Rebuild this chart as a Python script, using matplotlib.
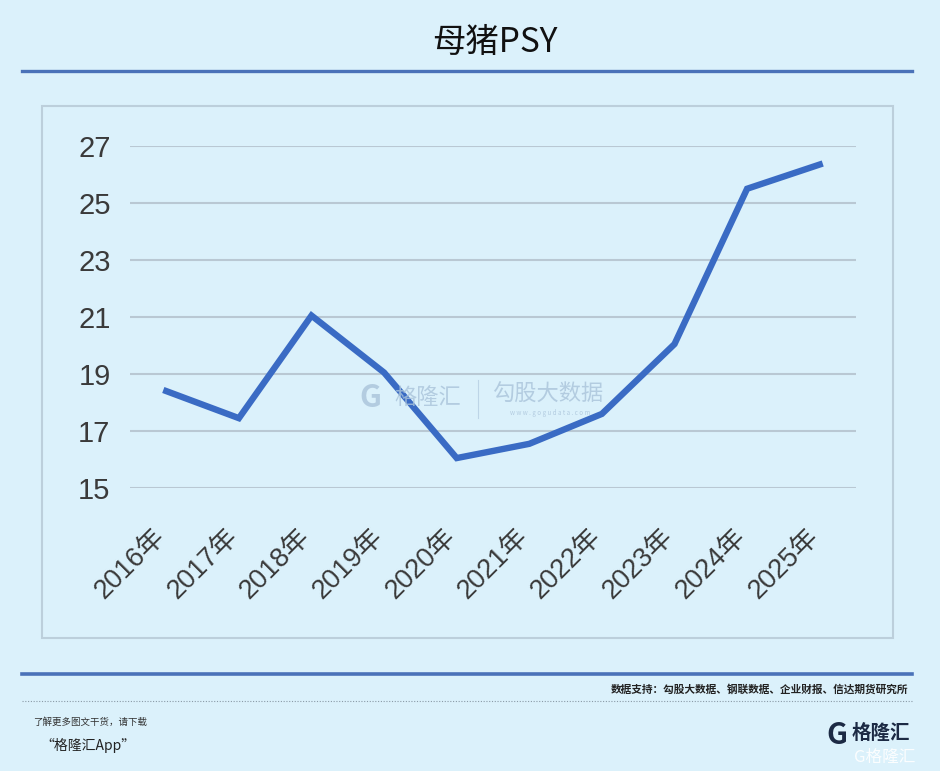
import matplotlib
matplotlib.use("Agg")
import matplotlib.pyplot as plt
import matplotlib.transforms as mtransforms
from matplotlib.lines import Line2D
from matplotlib.patches import Rectangle

plt.rcParams['font.family'] = ['Noto Sans CJK SC', 'DejaVu Sans']

years = ['2016年', '2017年', '2018年', '2019年', '2020年',
         '2021年', '2022年', '2023年', '2024年', '2025年']
psy = [18.4, 17.45, 21.05, 19.05, 16.05, 16.55, 17.6, 20.05, 25.5, 26.35]
yticks = [15, 17, 19, 21, 23, 25, 27]

W, H = 940, 771
bg = '#dbf1fb'
num_font = ['Liberation Sans', 'Noto Sans CJK SC']

def fx(x):
    return x / W

def fy(y):
    return 1 - y / H

fig = plt.figure(figsize=(W / 100, H / 100), dpi=100, facecolor=bg)

# title and separator
fig.text(fx(495), fy(42), '母猪PSY', fontsize=24, ha='center', va='center', color='#111111')
fig.add_artist(Line2D([fx(22), fx(912)], [fy(71), fy(71)], color='#4a72b8', lw=2.4))

# panel box
fig.add_artist(Rectangle((fx(42), fy(638)), fx(893) - fx(42), fy(106) - fy(638),
                         fill=False, ec='#bccfdb', lw=1.5))

ax = fig.add_axes([fx(130), fy(488), fx(856) - fx(130), fy(146) - fy(488)])
ax.set_facecolor('none')
x = range(len(years))
ax.plot(x, psy, color='#3a6bc4', lw=4.6, solid_joinstyle='miter', clip_on=False, zorder=3)
ax.set_xlim(-0.5, len(years) - 0.5)
ax.set_ylim(15, 27)
ax.set_yticks(yticks)
ax.set_yticklabels([str(v) for v in yticks], fontsize=21, color='#3a3a3a', family=num_font)
ax.set_xticks(list(x))
ax.set_xticklabels(years, fontsize=19.5, color='#3a3a3a', rotation=45, family=num_font,
                   ha='right', va='center', rotation_mode='anchor')
ax.tick_params(axis='both', length=0)
ax.tick_params(axis='y', pad=14)
ax.tick_params(axis='x', pad=32)
shift = mtransforms.ScaledTranslation(-5 / 100, 0, fig.dpi_scale_trans)
for lab in ax.get_xticklabels():
    lab.set_transform(lab.get_transform() + shift)
ax.grid(axis='y', color='#b9c8d3', lw=1.5)
ax.set_axisbelow(True)
for s in ax.spines.values():
    s.set_visible(False)

# watermark
wm = '#a9c3da'
fig.text(fx(370), fy(398), 'G', fontsize=22, fontweight='bold', color=wm, ha='center', va='center', alpha=0.8)
fig.text(fx(428), fy(397), '格隆汇', fontsize=16, color=wm, ha='center', va='center', alpha=0.8)
fig.add_artist(Line2D([fx(478), fx(478)], [fy(380), fy(418)], color=wm, lw=0.8, alpha=0.6))
fig.text(fx(548), fy(394), '勾股大数据', fontsize=16, color=wm, ha='center', va='center', alpha=0.8)
fig.text(fx(550), fy(413), 'w w w . g o g u d a t a . c o m', fontsize=4.5, color=wm, ha='center', va='center', alpha=0.8)

# footer
fig.add_artist(Line2D([fx(22), fx(912)], [fy(674), fy(674)], color='#4a72b8', lw=2.6))
fig.text(fx(908), fy(689), '数据支持：勾股大数据、钢联数据、企业财报、信达期货研究所',
         fontsize=7.7, fontweight='bold', ha='right', va='center', color='#222222')
fig.add_artist(Line2D([fx(22), fx(912)], [fy(701), fy(701)], color='#8a9aa6', lw=0.8, ls=(0, (1, 1.5))))
fig.text(fx(33), fy(722), '了解更多图文干货，请下载', fontsize=6.8, ha='left', va='center', color='#333333')
fig.text(fx(40), fy(745), '“格隆汇App”', fontsize=10, ha='left', va='center', color='#222222')

# logo
fig.text(fx(837), fy(735), 'G', fontsize=21, fontweight='bold', color='#1c2a44', ha='center', va='center')
fig.text(fx(881), fy(733), '格隆汇', fontsize=14, fontweight='bold', color='#1c2a44', ha='center', va='center')
fig.text(fx(885), fy(757), 'G格隆汇', fontsize=12, color='#ffffff', ha='center', va='center', alpha=0.9)

fig.savefig('out.png', dpi=100, facecolor=bg)
